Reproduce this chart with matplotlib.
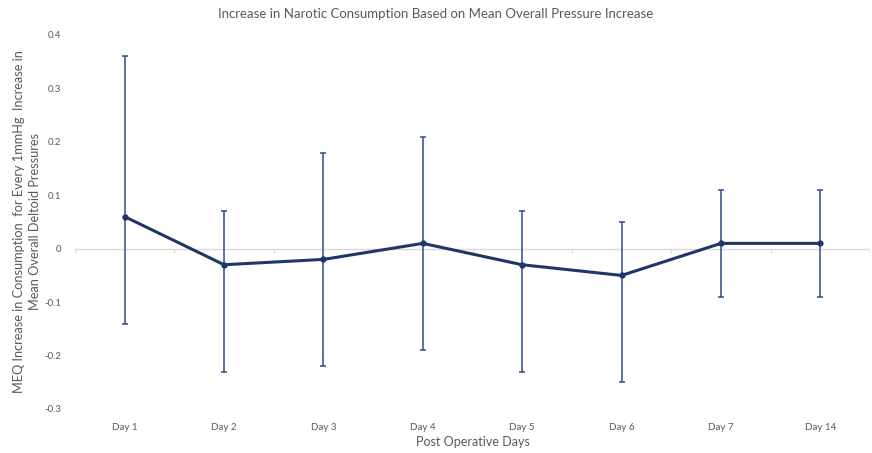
import matplotlib
matplotlib.use("Agg")
import matplotlib.pyplot as plt
import numpy as np

categories = ["Day 1", "Day 2", "Day 3", "Day 4", "Day 5", "Day 6", "Day 7", "Day 14"]
values = [0.06, -0.03, -0.02, 0.01, -0.03, -0.05, 0.01, 0.01]
err_upper = [0.30, 0.10, 0.20, 0.20, 0.10, 0.10, 0.10, 0.10]
err_lower = [0.20, 0.20, 0.20, 0.20, 0.20, 0.20, 0.10, 0.10]
yticks = [-0.3, -0.2, -0.1, 0, 0.1, 0.2, 0.3, 0.4]
ytick_labels = ["-0.3", "-0.2", "-0.1", "0", "0.1", "0.2", "0.3", "0.4"]

plt.rcParams['font.family'] = ['Lato', 'DejaVu Sans']
text_color = "#595959"
line_color = "#1f3768"
err_color = "#2e4a86"

fig = plt.figure(figsize=(8.72, 4.53), dpi=100)
ax = fig.add_axes([75/872, 44/453, 795/872, 374/453])
x = np.arange(len(categories))

ax.axhline(0, color="#d9d9d9", lw=1.0, zorder=1)
# small tick marks on the category axis (between categories)
for b in np.arange(-0.5, len(categories) + 0.5, 1.0):
    ax.plot([b, b], [0, -0.006], color="#d9d9d9", lw=1.0, zorder=1)

ax.errorbar(x, values, yerr=[err_lower, err_upper], fmt="none", ecolor=err_color,
            elinewidth=1.1, capsize=2.0, capthick=1.1, zorder=2)
ax.plot(x, values, color=line_color, lw=2.2, marker="o", markersize=3.5, zorder=3)

ax.set_xlim(-0.5, len(categories) - 0.5)
ax.set_ylim(-0.3, 0.4)
ax.set_yticks(yticks)
ax.set_yticklabels(ytick_labels)
ax.set_xticks(x)
ax.set_xticklabels(categories)
ax.tick_params(axis="both", length=0, labelsize=7, colors=text_color)
ax.tick_params(axis="y", pad=10)
ax.tick_params(axis="x", pad=10)
for s in ax.spines.values():
    s.set_visible(False)

ax.set_xlabel("Post Operative Days", fontsize=9, color=text_color, labelpad=3)
fig.text(27/872, 0.51,
         "MEQ Increase in Consumption  for Every 1mmHg  Increase in\nMean Overall Deltoid Pressures",
         rotation=90, ha="center", va="center", multialignment="center",
         fontsize=9.2, color=text_color, linespacing=1.45)
fig.text(0.5, 0.97, "Increase in Narotic Consumption Based on Mean Overall Pressure Increase",
         ha="center", va="center", fontsize=9.5, color=text_color)

fig.savefig("out.png", dpi=100)
